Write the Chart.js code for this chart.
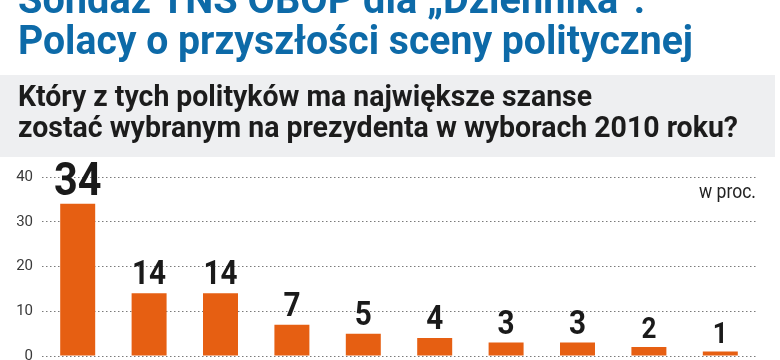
<!DOCTYPE html>
<html>
<head>
<meta charset="utf-8">
<script src="https://cdn.jsdelivr.net/npm/chart.js@4"></script>
<style>
    html, body { margin: 0; padding: 0; background: #fff; overflow: hidden; }
    #wrap { width: 780px; height: 374px; }
</style>
</head>
<body>
<div id="wrap"><canvas id="myChart" width="780" height="374"></canvas></div>
<script>
var categories = ['1', '2', '3', '4', '5', '6', '7', '8', '9', '10']
var wartosci = [34, 14, 14, 7, 5, 4, 3, 3, 2, 1]
var yTicks = [0, 10, 20, 30, 40]
var tytul = ['Sondaż TNS OBOP dla „Dziennika”:', 'Polacy o przyszłości sceny politycznej']
var pytanie = ['Który z tych polityków ma największe szanse', 'zostać wybranym na prezydenta w wyborach 2010 roku?']
var jednostka = 'w proc.'

var font = "'Liberation Sans Narrow', Roboto, 'Liberation Sans', sans-serif"

var naglowek = {
    id: 'naglowek',
    beforeDraw: function (chart) {
        var ctx = chart.ctx
        ctx.save()
        ctx.fillStyle = '#eeeff1'
        ctx.fillRect(0, 75, 775, 82)
        ctx.textAlign = 'left'
        ctx.textBaseline = 'alphabetic'
        ctx.fillStyle = '#0d6aa8'
        ctx.font = 'bold 41px ' + font
        ctx.fillText(tytul[0], 18, 13, 627)
        ctx.fillText(tytul[1], 18, 54, 675)
        ctx.fillStyle = '#1c1c1c'
        ctx.font = 'bold 30px ' + font
        ctx.fillText(pytanie[0], 18, 106, 574)
        ctx.fillText(pytanie[1], 18, 137, 720)
        ctx.fillStyle = '#222'
        ctx.font = '20px ' + font
        ctx.textAlign = 'right'
        ctx.fillText(jednostka, 756, 198, 57)
        ctx.restore()
    },
    afterDatasetsDraw: function (chart) {
        var ctx = chart.ctx
        var meta = chart.getDatasetMeta(0)
        ctx.save()
        ctx.fillStyle = '#1a1a1a'
        ctx.textAlign = 'center'
        ctx.textBaseline = 'alphabetic'
        meta.data.forEach(function (bar, i) {
            var v = wartosci[i]
            var size = v >= 30 ? 46 : (v >= 3 ? 33 : 29)
            ctx.font = 'bold ' + size + 'px ' + font
            var w = ctx.measureText(String(v)).width * 0.9
            ctx.fillText(String(v), bar.x, bar.y - 9, w)
        })
        ctx.restore()
    }
}

const ctx = document.getElementById('myChart');
new Chart(ctx, {
    type: 'bar',
    data: {
        labels: categories,
        datasets: [{
            data: wartosci,
            backgroundColor: '#e65f12',
            borderWidth: 0,
            categoryPercentage: 1,
            barPercentage: 0.49
        }]
    },
    options: {
        responsive: false,
        animation: false,
        events: [],
        layout: { padding: { top: 177, right: 24, bottom: 14, left: 0 } },
        plugins: {
            legend: { display: false },
            tooltip: { enabled: false }
        },
        scales: {
            x: { display: false },
            y: {
                min: 0,
                max: 40,
                afterFit: function (s) { s.width = 42 },
                afterBuildTicks: function (s) { s.ticks = yTicks.map(function (v) { return { value: v } }) },
                ticks: {
                    padding: 9,
                    color: '#3a3a3a',
                    font: { family: font, size: 15 }
                },
                grid: { color: '#7a7a7a', lineWidth: 1, drawTicks: false },
                border: { display: false, dash: [1.5, 2.5] }
            }
        }
    },
    plugins: [naglowek]
});
</script>
</body>
</html>
